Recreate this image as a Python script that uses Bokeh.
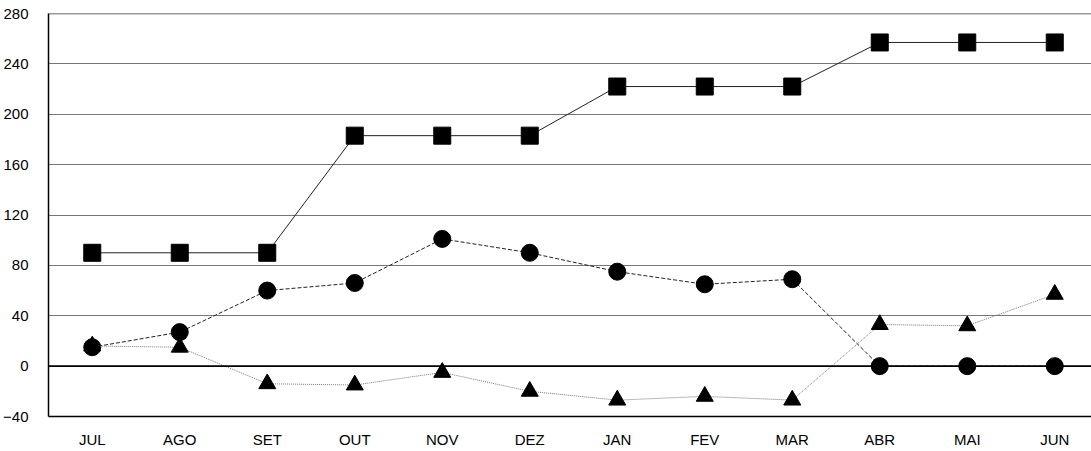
from bokeh.plotting import figure
from bokeh.models import Range1d, FixedTicker, Span
from bokeh.embed import file_html
from bokeh.resources import INLINE

months = ["JUL", "AGO", "SET", "OUT", "NOV", "DEZ", "JAN", "FEV", "MAR", "ABR", "MAI", "JUN"]
squares = [90, 90, 90, 183, 183, 183, 222, 222, 222, 257, 257, 257]
circles = [15, 27, 60, 66, 101, 90, 75, 65, 69, 0, 0, 0]
triangles = [16, 15, -14, -15, -5, -20, -27, -24, -27, 33, 32, 57]
y_ticks = [-40, 0, 40, 80, 120, 160, 200, 240, 280]

xs = list(range(len(months)))
W, H = 1091, 450
left, right, top, bottom = 48, 0, 13, 34
frame_w = W - left - right
unit = 87.5

p = figure(width=W, height=H, output_backend="svg", toolbar_location=None,
           x_range=Range1d(-0.5, -0.5 + frame_w / unit), y_range=Range1d(-40, 280),
           min_border_left=left, min_border_right=right, min_border_top=top, min_border_bottom=bottom)
p.outline_line_color = None
p.background_fill_color = "white"
p.border_fill_color = "white"

p.xgrid.visible = False
p.ygrid.ticker = FixedTicker(ticks=y_ticks)
p.ygrid.grid_line_color = "#777777"
p.ygrid.grid_line_width = 1

p.xaxis.ticker = FixedTicker(ticks=xs)
p.xaxis.major_label_overrides = {i: m for i, m in enumerate(months)}
p.yaxis.ticker = FixedTicker(ticks=y_ticks)
for ax in (p.xaxis, p.yaxis):
    ax.major_tick_line_color = None
    ax.minor_tick_line_color = None
    ax.axis_line_color = "black"
    ax.axis_line_width = 1.5
    ax.major_label_text_font = "Liberation Sans"
    ax.major_label_text_font_size = "15px"
    ax.major_label_text_color = "black"
p.xaxis.major_label_standoff = 8
p.yaxis.major_label_standoff = 14

p.add_layout(Span(location=0, dimension="width", line_color="black", line_width=1.8))
p.add_layout(Span(location=280, dimension="width", line_color="#333333", line_width=1.5))

p.line(xs, squares, line_color="#222222", line_width=1)
p.scatter(xs, squares, marker="square", size=17, fill_color="black", line_color="black")

p.line(xs, circles, line_color="#222222", line_width=1, line_dash="4 2")
p.scatter(xs, circles, marker="circle", size=17, fill_color="black", line_color="black")

p.line(xs, triangles, line_color="#777777", line_width=1, line_dash="1 1")
p.scatter(xs, triangles, marker="triangle", size=17, fill_color="black", line_color="black")

open("out.html", "w").write(file_html(p, INLINE))
